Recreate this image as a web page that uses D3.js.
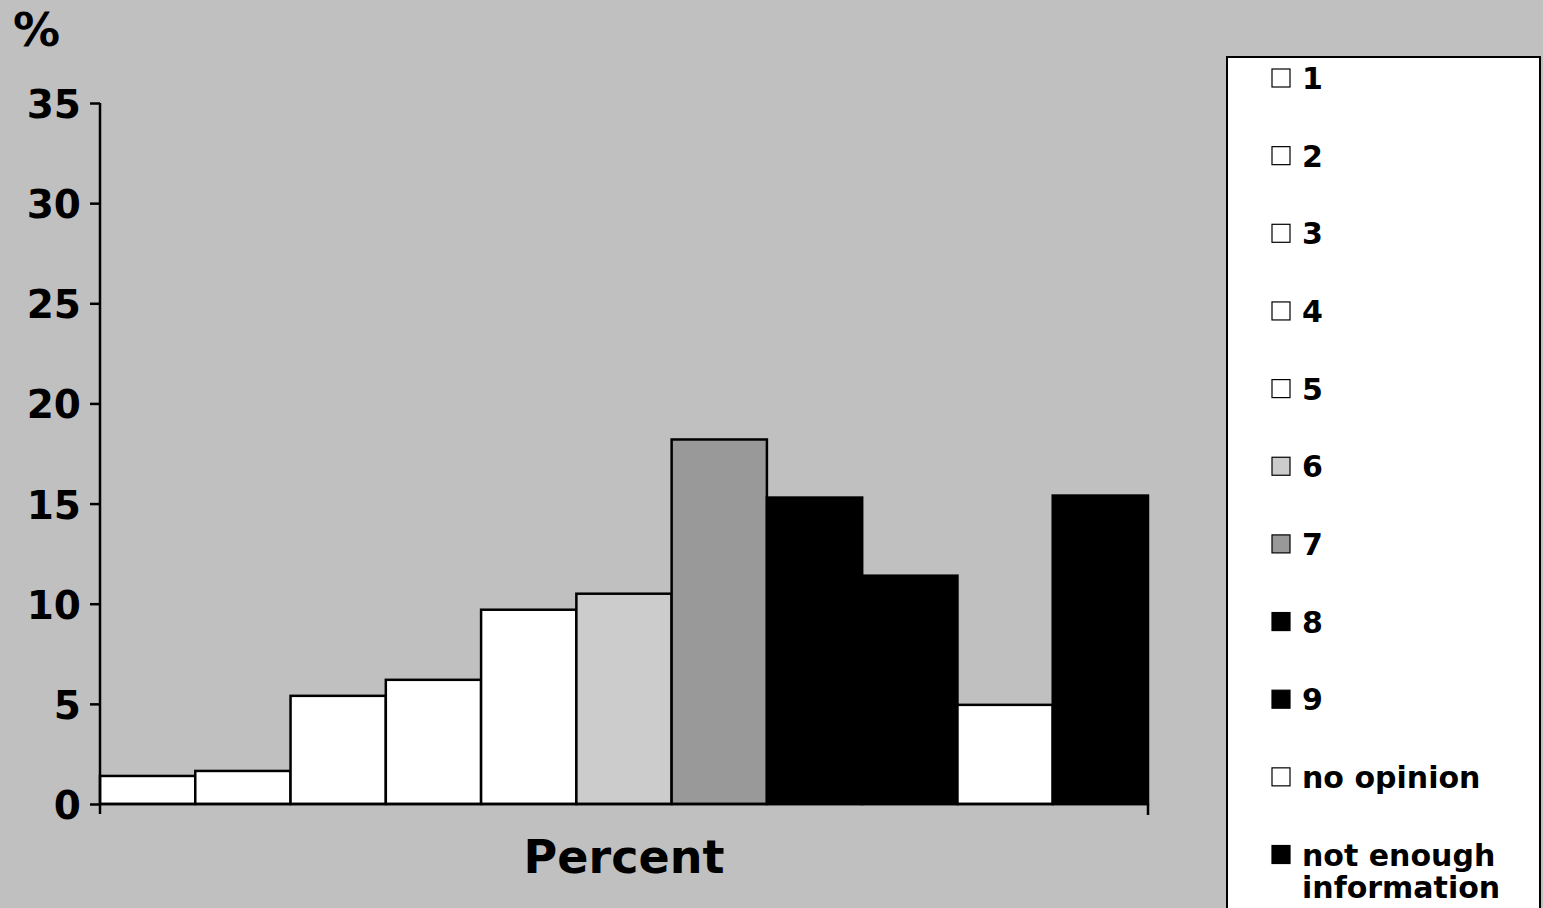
<!DOCTYPE html>
<html><head><meta charset="utf-8">
<script src="https://cdn.jsdelivr.net/npm/d3@7"></script>
<style>html,body{margin:0;padding:0;background:#c0c0c0;overflow:hidden}</style>
</head><body>
<svg id="chart" width="1543" height="908"></svg>
<script>
const categories = ["1","2","3","4","5","6","7","8","9","no opinion","not enough information"];
const values = [1.4, 1.65, 5.4, 6.2, 9.7, 10.5, 18.2, 15.3, 11.4, 4.95, 15.4];
const fills = ["#ffffff","#ffffff","#ffffff","#ffffff","#ffffff","#cccccc","#999999","#000000","#000000","#ffffff","#000000"];
const legendLabels = [["1"],["2"],["3"],["4"],["5"],["6"],["7"],["8"],["9"],["no opinion"],["not enough","information"]];
const yTicks = [0,5,10,15,20,25,30,35];
const axisTitle = "Percent";
const unitLabel = "%";

const svg = d3.select("#chart");
const font = "'DejaVu Sans', Verdana, sans-serif";
svg.append("rect").attr("width",1543).attr("height",908).attr("fill","#c0c0c0");

const y = d3.scaleLinear().domain([0,35]).range([804,103]);
const x = d3.scaleBand().domain(categories).range([100,1148]).padding(0);

// bars
svg.append("g").selectAll("rect").data(categories).join("rect")
  .attr("x", d => x(d))
  .attr("y", (d,i) => y(values[i]))
  .attr("width", x.bandwidth())
  .attr("height", (d,i) => y(0) - y(values[i]))
  .attr("fill", (d,i) => fills[i])
  .attr("stroke", "#000").attr("stroke-width", 2.5);

// y axis
const yAxis = d3.axisLeft(y).tickValues(yTicks).tickSize(10).tickPadding(9).tickFormat(d3.format("d"));
const gy = svg.append("g").attr("transform","translate(100,0)").call(yAxis);
gy.select(".domain").attr("stroke","#000").attr("stroke-width",2.5).attr("d","M0,103V814");
gy.selectAll(".tick line").attr("stroke","#000").attr("stroke-width",2.5);
gy.selectAll(".tick text").attr("font-family",font).attr("font-weight","bold").attr("font-size","39px").attr("fill","#000").attr("dy","0.37em");

// x axis line
svg.append("line").attr("x1",100).attr("x2",1148).attr("y1",y(0)).attr("y2",y(0)).attr("stroke","#000").attr("stroke-width",2.5);
svg.append("line").attr("x1",1148).attr("x2",1148).attr("y1",y(0)).attr("y2",y(0)+11).attr("stroke","#000").attr("stroke-width",2.5);

// axis title
svg.append("text").attr("x",(100+1148)/2).attr("y",873).attr("text-anchor","middle")
  .attr("font-family",font).attr("font-weight","bold").attr("font-size","46px").text(axisTitle);
svg.append("text").attr("x",13).attr("y",46)
  .attr("font-family",font).attr("font-weight","bold").attr("font-size","47px").text(unitLabel);

// legend
svg.append("rect").attr("x",1227).attr("y",57).attr("width",313).attr("height",870)
  .attr("fill","#fff").attr("stroke","#000").attr("stroke-width",2);
const leg = svg.append("g").selectAll("g").data(categories).join("g")
  .attr("transform",(d,i)=>`translate(1272,${78 + i*77.65})`);
leg.append("rect").attr("x",0).attr("y",-9).attr("width",18).attr("height",18)
  .attr("fill",(d,i)=>fills[i]).attr("stroke","#000").attr("stroke-width",1.2);
leg.append("text").attr("font-family",font).attr("font-weight","bold").attr("font-size","30px")
  .attr("x",30).attr("y",11)
  .each(function(d,i){
    const t = d3.select(this);
    legendLabels[i].forEach((line,j)=>{
      t.append("tspan").attr("x",30).attr("dy", j===0?0:32).text(line);
    });
  });
</script>
</body></html>
